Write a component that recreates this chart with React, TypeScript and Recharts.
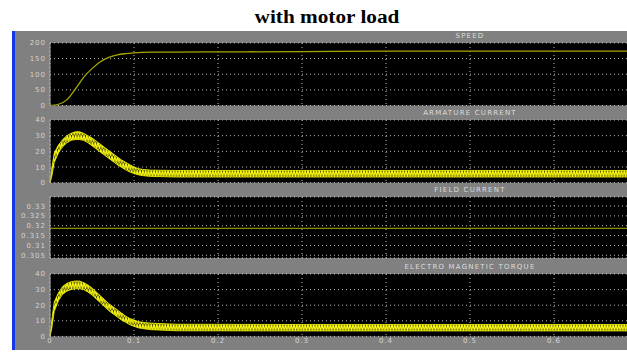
import React from 'react';
import { ComposedChart, Line, Area, XAxis, YAxis, CartesianGrid } from 'recharts';

// time axis (s) - the scope runs to 1 s, the picture is cut near 0.69 s
const timeTicks = [0, 0.1, 0.2, 0.3, 0.4, 0.5, 0.6];

// speed
const speedTime = [0, 0.01, 0.02, 0.03, 0.04, 0.05, 0.06, 0.07, 0.08, 0.09, 0.1, 0.12, 0.15, 0.2, 0.3, 0.4, 0.5, 0.7, 1.0];
const speedValues = [0, 4, 18, 52, 90, 118, 140, 154, 162, 166, 168.5, 170.5, 171, 171.5, 172.5, 174, 174, 174, 174];
const speedTicks = [0, 50, 100, 150, 200];

// armature current and torque: ripple band (low / high)
const rippleTime = [0, 0.002, 0.005, 0.01, 0.015, 0.02, 0.025, 0.03, 0.035, 0.04, 0.045, 0.05, 0.055, 0.06, 0.065, 0.07, 0.075, 0.08, 0.085, 0.09, 0.095, 0.1, 0.105, 0.11, 0.12, 0.15, 0.3, 0.5, 0.7, 1.0];
const armatureLow = [0, 4, 13, 19, 23, 25.5, 27, 27.5, 27.5, 27, 25.5, 23.5, 21.5, 19.5, 17.5, 15.5, 13.5, 11.5, 9.8, 8.2, 6.8, 5.8, 5, 4.5, 4, 3.6, 3.6, 3.6, 3.6, 3.6];
const armatureHigh = [0, 9, 19, 24, 27.5, 30, 31.5, 32.5, 32.5, 31.5, 30, 28.5, 26.5, 24.5, 22.5, 20.5, 18.5, 16.5, 14.5, 13, 11.5, 10, 9, 8.5, 8, 7.8, 7.8, 7.8, 7.8, 7.8];
const torqueLow = [0, 5, 16, 23, 27, 29, 30, 30.5, 30.5, 30, 28.5, 26.5, 24, 21.5, 19, 16.5, 14.5, 12.5, 10.5, 9, 7.5, 6.5, 5.5, 5, 4.3, 3.6, 3.5, 3.5, 3.5, 3.5];
const torqueHigh = [0, 10, 22, 28, 32, 34, 35, 35.5, 35.5, 34.5, 33, 31, 28.5, 26, 23.5, 21, 19, 17, 15, 13, 11.5, 10.5, 9.5, 9, 8.5, 7.8, 7.6, 7.6, 7.6, 7.6];
const currentTicks = [0, 10, 20, 30, 40];

// field current
const fieldTime = [0, 1.0];
const fieldValues = [0.3187, 0.3187];
const fieldTicks = [0.305, 0.31, 0.315, 0.32, 0.325, 0.33];

const panelTitles = ['SPEED', 'ARMATURE CURRENT', 'FIELD CURRENT', 'ELECTRO MAGNETIC TORQUE'];

const speedRows = speedTime.map((t, i) => ({ t, v: speedValues[i] }));
const armatureRows = rippleTime.map((t, i) => ({ t, band: [armatureLow[i], armatureHigh[i]] }));
const torqueRows = rippleTime.map((t, i) => ({ t, band: [torqueLow[i], torqueHigh[i]] }));
const fieldRows = fieldTime.map((t, i) => ({ t, v: fieldValues[i] }));

const PLOT_W = 840;
const AXIS_W = 50;
const CHART_W = AXIS_W + PLOT_W + 10;
const tickFont = { fontFamily: 'DejaVu Sans', fontSize: 7, fill: '#d4d4d4', letterSpacing: 1 };

function Scope({
  data,
  top,
  plotH,
  yDomain,
  yTicks,
  showTime,
  title,
  children
}: {
  data: any[];
  top: number;
  plotH: number;
  yDomain: [number, number];
  yTicks: number[];
  showTime?: boolean;
  title: string;
  children: React.ReactNode;
}) {
  const xH = showTime ? 14 : 0;
  const h = 6 + plotH + 6 + xH;
  return (
    <>
      <div
        style={{
          position: 'absolute',
          left: AXIS_W,
          top: top - 10,
          width: PLOT_W,
          textAlign: 'center',
          fontFamily: 'DejaVu Sans',
          fontSize: 7,
          lineHeight: '7px',
          letterSpacing: 1.2,
          color: '#dcdcdc'
        }}
      >
        {title}
      </div>
      <div style={{ position: 'absolute', left: 0, top: top - 6, width: CHART_W, height: h }}>
        <ComposedChart width={CHART_W} height={h} data={data} margin={{ top: 6, right: 10, bottom: 6, left: 0 }}>
          <defs>
            <pattern id="ripple" width="2.8" height="7" patternUnits="userSpaceOnUse">
              <rect width="2.8" height="7" fill="#3c3c00" />
              <path d="M0,0 L1.4,7 L2.8,0" stroke="#ffff10" strokeWidth="1.2" fill="none" />
            </pattern>
          </defs>
          <CartesianGrid fill="#000" stroke="#bdbdbd" strokeDasharray="1 3" />
          <XAxis
            type="number"
            dataKey="t"
            domain={[0, 1]}
            ticks={timeTicks}
            interval={0}
            hide={!showTime}
            height={xH}
            axisLine={false}
            tickLine={false}
            tickSize={0}
            tickMargin={2}
            tick={tickFont}
            tickFormatter={(v) => String(v)}
          />
          <XAxis
            xAxisId="top"
            orientation="top"
            mirror
            type="number"
            dataKey="t"
            domain={[0, 1]}
            ticks={timeTicks}
            interval={0}
            tick={false}
            axisLine={false}
            tickLine={{ stroke: '#ffffff', strokeWidth: 1 }}
            tickSize={3}
            height={0}
          />
          <XAxis
            xAxisId="bot"
            orientation="bottom"
            mirror
            type="number"
            dataKey="t"
            domain={[0, 1]}
            ticks={timeTicks}
            interval={0}
            tick={false}
            axisLine={false}
            tickLine={{ stroke: '#ffffff', strokeWidth: 1 }}
            tickSize={3}
            height={0}
          />
          <YAxis
            type="number"
            domain={yDomain}
            ticks={yTicks}
            interval={0}
            allowDataOverflow
            width={AXIS_W}
            axisLine={{ stroke: '#a8a8a8' }}
            tickLine={false}
            tickSize={0}
            tickMargin={4}
            tick={tickFont}
            tickFormatter={(v) => String(v)}
          />
          {children}
        </ComposedChart>
      </div>
    </>
  );
}

export default function App() {
  return (
    <div
      style={{
        position: 'fixed',
        left: 0,
        top: 0,
        width: 627,
        height: 352,
        overflow: 'hidden',
        background: '#fff'
      }}
    >
      <div
        style={{
          position: 'absolute',
          left: 0,
          top: 8,
          width: 654,
          textAlign: 'center',
          fontFamily: '"Liberation Serif", serif',
          fontWeight: 'bold',
          fontSize: 18,
          lineHeight: '18px',
          transform: 'scaleX(1.18)',
          transformOrigin: '327px 0',
          color: '#000'
        }}
      >
        with motor load
      </div>
      <div style={{ position: 'absolute', left: 12, top: 31, width: 900, height: 319, background: '#808080' }} />
      <div style={{ position: 'absolute', left: 12, top: 31, width: 3, height: 319, background: '#1438e6' }} />

      <Scope data={speedRows} top={43} plotH={62.5} yDomain={[0, 200]} yTicks={speedTicks} title={panelTitles[0]}>
        <Line type="monotone" dataKey="v" stroke="#a6a600" strokeWidth={1.3} dot={false} isAnimationActive={false} />
      </Scope>

      <Scope data={armatureRows} top={120} plotH={62.7} yDomain={[0, 40]} yTicks={currentTicks} title={panelTitles[1]}>
        <Area
          type="linear"
          dataKey="band"
          stroke="#ffff00"
          strokeWidth={0.8}
          fill="url(#ripple)"
          fillOpacity={1}
          dot={false}
          isAnimationActive={false}
        />
      </Scope>

      <Scope data={fieldRows} top={197} plotH={61} yDomain={[0.3036, 0.3346]} yTicks={fieldTicks} title={panelTitles[2]}>
        <Line type="linear" dataKey="v" stroke="#8e8e00" strokeWidth={1.3} dot={false} isAnimationActive={false} />
      </Scope>

      <Scope
        data={torqueRows}
        top={274.3}
        plotH={62.4}
        yDomain={[0, 40]}
        yTicks={currentTicks}
        title={panelTitles[3]}
        showTime
      >
        <Area
          type="linear"
          dataKey="band"
          stroke="#ffff00"
          strokeWidth={0.8}
          fill="url(#ripple)"
          fillOpacity={1}
          dot={false}
          isAnimationActive={false}
        />
      </Scope>
    </div>
  );
}
